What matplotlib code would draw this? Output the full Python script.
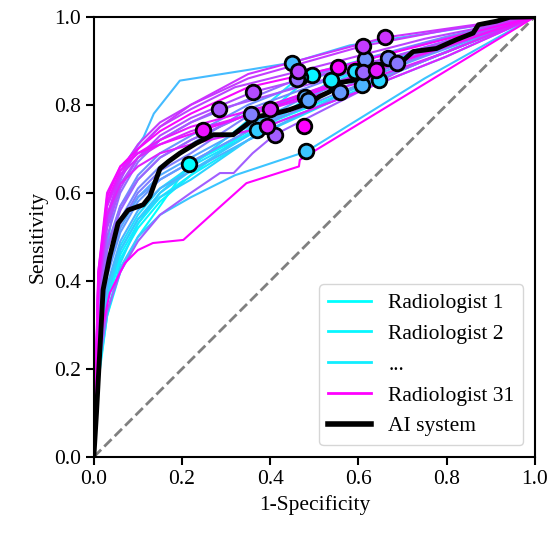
import matplotlib
matplotlib.use("Agg")
import matplotlib.pyplot as plt
from matplotlib.lines import Line2D

plt.rcParams["font.family"] = ["Liberation Serif", "DejaVu Serif"]

# ROC curve of each of the 31 readers: 1-specificity values
reader_fpr = [
    [0, 0.01, 0.03, 0.06, 0.1, 0.15, 0.216, 0.4, 0.6, 0.8, 1],
    [0, 0.01, 0.03, 0.06, 0.1, 0.15, 0.22, 0.32, 0.495, 0.75, 1],
    [0, 0.01, 0.03, 0.06, 0.1, 0.15, 0.22, 0.35, 0.538, 0.75, 1],
    [0, 0.01, 0.03, 0.06, 0.1, 0.15, 0.22, 0.32, 0.467, 0.75, 1],
    [0, 0.01, 0.03, 0.06, 0.1, 0.15, 0.22, 0.35, 0.592, 0.8, 1],
    [0, 0.01, 0.03, 0.06, 0.1, 0.15, 0.22, 0.35, 0.647, 0.82, 1],
    [0, 0.01, 0.03, 0.06, 0.1, 0.15, 0.22, 0.370, 0.6, 0.8, 1],
    [0, 0.01, 0.03, 0.06, 0.1, 0.15, 0.22, 0.32, 0.482, 0.75, 1],
    [0, 0.01, 0.03, 0.05, 0.08, 0.113, 0.136, 0.195, 0.354, 0.45, 0.58, 1],
    [0, 0.01, 0.03, 0.06, 0.1, 0.15, 0.22, 0.35, 0.607, 0.8, 1],
    [0, 0.01, 0.03, 0.06, 0.1, 0.15, 0.22, 0.33, 0.478, 0.75, 1],
    [0, 0.01, 0.03, 0.06, 0.1, 0.15, 0.22, 0.33, 0.486, 0.75, 1],
    [0, 0.01, 0.03, 0.06, 0.1, 0.15, 0.22, 0.35, 0.558, 0.8, 1],
    [0, 0.01, 0.03, 0.06, 0.1, 0.15, 0.22, 0.35, 0.615, 0.8, 1],
    [0, 0.01, 0.03, 0.06, 0.1, 0.15, 0.22, 0.35, 0.666, 0.85, 1],
    [0, 0.01, 0.03, 0.06, 0.1, 0.15, 0.22, 0.357, 0.6, 0.8, 1],
    [0, 0.01, 0.03, 0.06, 0.1, 0.15, 0.22, 0.35, 0.688, 0.85, 1],
    [0, 0.01, 0.03, 0.06, 0.1, 0.15, 0.22, 0.32, 0.461, 0.75, 1],
    [0, 0.01, 0.03, 0.06, 0.1, 0.15, 0.22, 0.35, 0.611, 0.8, 1],
    [0, 0.01, 0.03, 0.06, 0.1, 0.15, 0.22, 0.286, 0.317, 0.36, 0.41, 0.7, 1],
    [0, 0.01, 0.03, 0.06, 0.1, 0.15, 0.22, 0.284, 0.5, 0.75, 1],
    [0, 0.01, 0.03, 0.06, 0.1, 0.15, 0.22, 0.360, 0.6, 0.8, 1],
    [0, 0.01, 0.03, 0.06, 0.1, 0.15, 0.22, 0.32, 0.464, 0.75, 1],
    [0, 0.01, 0.03, 0.06, 0.1, 0.15, 0.22, 0.35, 0.611, 0.8, 1],
    [0, 0.01, 0.03, 0.06, 0.1, 0.15, 0.22, 0.35, 0.660, 0.85, 1],
    [0, 0.01, 0.03, 0.06, 0.1, 0.15, 0.22, 0.400, 0.6, 0.8, 1],
    [0, 0.01, 0.03, 0.06, 0.1, 0.15, 0.22, 0.392, 0.6, 0.8, 1],
    [0, 0.01, 0.03, 0.06, 0.1, 0.15, 0.22, 0.4, 0.640, 0.85, 1],
    [0, 0.01, 0.03, 0.06, 0.1, 0.15, 0.248, 0.45, 0.7, 1],
    [0, 0.01, 0.03, 0.06, 0.1, 0.15, 0.22, 0.35, 0.553, 0.8, 1],
    [0, 0.01, 0.036, 0.07, 0.1, 0.134, 0.203, 0.278, 0.346, 0.465, 0.467, 1],
]

# ROC curve of each of the 31 readers: sensitivity values
reader_tpr = [
    [0, 0.18, 0.32, 0.42, 0.50, 0.57, 0.665, 0.76, 0.84, 0.92, 1],
    [0, 0.20, 0.35, 0.45, 0.52, 0.58, 0.64, 0.72, 0.867, 0.94, 1],
    [0, 0.22, 0.36, 0.46, 0.53, 0.59, 0.64, 0.72, 0.856, 0.93, 1],
    [0, 0.17, 0.32, 0.44, 0.53, 0.60, 0.66, 0.74, 0.864, 0.94, 1],
    [0, 0.25, 0.38, 0.48, 0.55, 0.61, 0.66, 0.73, 0.877, 0.94, 1],
    [0, 0.23, 0.37, 0.47, 0.54, 0.59, 0.63, 0.72, 0.857, 0.93, 1],
    [0, 0.22, 0.37, 0.47, 0.54, 0.60, 0.65, 0.743, 0.83, 0.91, 1],
    [0, 0.20, 0.33, 0.43, 0.50, 0.55, 0.59, 0.64, 0.694, 0.86, 1],
    [0, 0.30, 0.48, 0.60, 0.68, 0.727, 0.78, 0.855, 0.88, 0.896, 0.935, 1],
    [0, 0.24, 0.39, 0.49, 0.56, 0.61, 0.65, 0.72, 0.846, 0.92, 1],
    [0, 0.27, 0.42, 0.52, 0.59, 0.64, 0.68, 0.74, 0.817, 0.92, 1],
    [0, 0.29, 0.44, 0.53, 0.59, 0.63, 0.67, 0.73, 0.810, 0.91, 1],
    [0, 0.26, 0.41, 0.51, 0.58, 0.63, 0.67, 0.74, 0.829, 0.92, 1],
    [0, 0.31, 0.47, 0.57, 0.64, 0.69, 0.73, 0.80, 0.905, 0.955, 1],
    [0, 0.29, 0.44, 0.54, 0.61, 0.66, 0.71, 0.79, 0.906, 0.96, 1],
    [0, 0.28, 0.43, 0.53, 0.60, 0.65, 0.69, 0.780, 0.86, 0.93, 1],
    [0, 0.32, 0.48, 0.57, 0.63, 0.68, 0.72, 0.78, 0.896, 0.955, 1],
    [0, 0.33, 0.50, 0.60, 0.67, 0.72, 0.76, 0.80, 0.858, 0.94, 1],
    [0, 0.31, 0.47, 0.56, 0.63, 0.68, 0.72, 0.78, 0.874, 0.94, 1],
    [0, 0.20, 0.33, 0.42, 0.49, 0.55, 0.60, 0.645, 0.645, 0.69, 0.732, 0.88, 1],
    [0, 0.36, 0.53, 0.62, 0.68, 0.72, 0.76, 0.790, 0.85, 0.93, 1],
    [0, 0.35, 0.52, 0.61, 0.68, 0.73, 0.77, 0.829, 0.89, 0.94, 1],
    [0, 0.37, 0.54, 0.63, 0.70, 0.75, 0.79, 0.84, 0.876, 0.95, 1],
    [0, 0.40, 0.57, 0.65, 0.71, 0.76, 0.80, 0.86, 0.934, 0.97, 1],
    [0, 0.38, 0.55, 0.64, 0.70, 0.75, 0.80, 0.87, 0.953, 0.98, 1],
    [0, 0.40, 0.57, 0.64, 0.68, 0.71, 0.74, 0.791, 0.85, 0.92, 1],
    [0, 0.38, 0.55, 0.62, 0.66, 0.69, 0.71, 0.751, 0.83, 0.91, 1],
    [0, 0.42, 0.58, 0.65, 0.69, 0.72, 0.75, 0.80, 0.880, 0.95, 1],
    [0, 0.42, 0.60, 0.66, 0.69, 0.71, 0.743, 0.81, 0.90, 1],
    [0, 0.40, 0.59, 0.66, 0.70, 0.74, 0.78, 0.84, 0.886, 0.95, 1],
    [0, 0.25, 0.372, 0.44, 0.47, 0.486, 0.493, 0.561, 0.622, 0.66, 0.675, 1],
]

# Operating point of each reader (1-specificity, sensitivity)
reader_op_fpr = [0.216, 0.495, 0.538, 0.467, 0.592, 0.647, 0.370, 0.482, 0.450, 0.607,
                 0.478, 0.486, 0.558, 0.615, 0.666, 0.357, 0.688, 0.461, 0.611, 0.410,
                 0.284, 0.360, 0.464, 0.611, 0.660, 0.400, 0.392, 0.640, 0.248, 0.553,
                 0.477]
reader_op_tpr = [0.665, 0.867, 0.856, 0.864, 0.877, 0.857, 0.743, 0.694, 0.896, 0.846,
                 0.817, 0.810, 0.829, 0.905, 0.906, 0.780, 0.896, 0.858, 0.874, 0.732,
                 0.790, 0.829, 0.876, 0.934, 0.953, 0.791, 0.751, 0.880, 0.743, 0.886,
                 0.751]

# ROC curve of the AI system
ai_fpr = [0, 0.006, 0.021, 0.036, 0.055, 0.078, 0.112, 0.127, 0.150, 0.169, 0.195,
          0.233, 0.271, 0.316, 0.346, 0.369, 0.414, 0.444, 0.475, 0.494, 0.512,
          0.535, 0.550, 0.596, 0.618, 0.641, 0.671, 0.698, 0.724, 0.777, 0.822,
          0.860, 0.872, 0.913, 0.943, 1.0]
ai_tpr = [0, 0.10, 0.38, 0.455, 0.531, 0.561, 0.573, 0.592, 0.655, 0.671, 0.690,
          0.713, 0.732, 0.732, 0.755, 0.773, 0.781, 0.789, 0.800, 0.807, 0.819,
          0.830, 0.849, 0.857, 0.872, 0.891, 0.894, 0.898, 0.921, 0.928, 0.948,
          0.963, 0.982, 0.990, 0.999, 1.0]

legend_labels = ["Radiologist 1", "Radiologist 2", "...", "Radiologist 31", "AI system"]

fig = plt.figure(figsize=(5.52, 5.42), dpi=100)
ax = fig.add_axes([0.170, 0.157, 0.799, 0.812])

ax.plot([0, 1], [0, 1], linestyle="--", color="gray", linewidth=2.0, zorder=1)

cmap = plt.cm.cool
n = len(reader_tpr)
for i in range(n):
    ax.plot(reader_fpr[i], reader_tpr[i], color=cmap(i / (n - 1)), linewidth=1.5, zorder=2)

ax.plot(ai_fpr, ai_tpr, color="black", linewidth=3.5, zorder=3)

for i in range(n):
    ax.plot(reader_op_fpr[i], reader_op_tpr[i], marker="o", markersize=10.5,
            markerfacecolor=cmap(i / (n - 1)), markeredgecolor="black",
            markeredgewidth=2.0, linestyle="none", zorder=4)

ax.set_xlim(0, 1)
ax.set_ylim(0, 1)
ax.set_xticks([0, 0.2, 0.4, 0.6, 0.8, 1.0])
ax.set_yticks([0, 0.2, 0.4, 0.6, 0.8, 1.0])
ax.set_xticklabels(["0.0", "0.2", "0.4", "0.6", "0.8", "1.0"])
ax.set_yticklabels(["0.0", "0.2", "0.4", "0.6", "0.8", "1.0"])
ax.tick_params(labelsize=15.5, width=1.5, length=6)
for sp in ax.spines.values():
    sp.set_linewidth(1.5)
ax.set_xlabel("1-Specificity", fontsize=15.5)
ax.set_ylabel("Sensitivity", fontsize=15.5)

handles = [
    Line2D([], [], color=cmap(0.0), linewidth=2),
    Line2D([], [], color=cmap(1 / 30), linewidth=2),
    Line2D([], [], color=cmap(2 / 30), linewidth=2),
    Line2D([], [], color=cmap(1.0), linewidth=2),
    Line2D([], [], color="black", linewidth=4),
]
ax.legend(handles, legend_labels, loc="lower right", fontsize=15.5,
          labelspacing=0.5, handletextpad=0.8, borderaxespad=0.55)

fig.savefig("out.png", dpi=100)
